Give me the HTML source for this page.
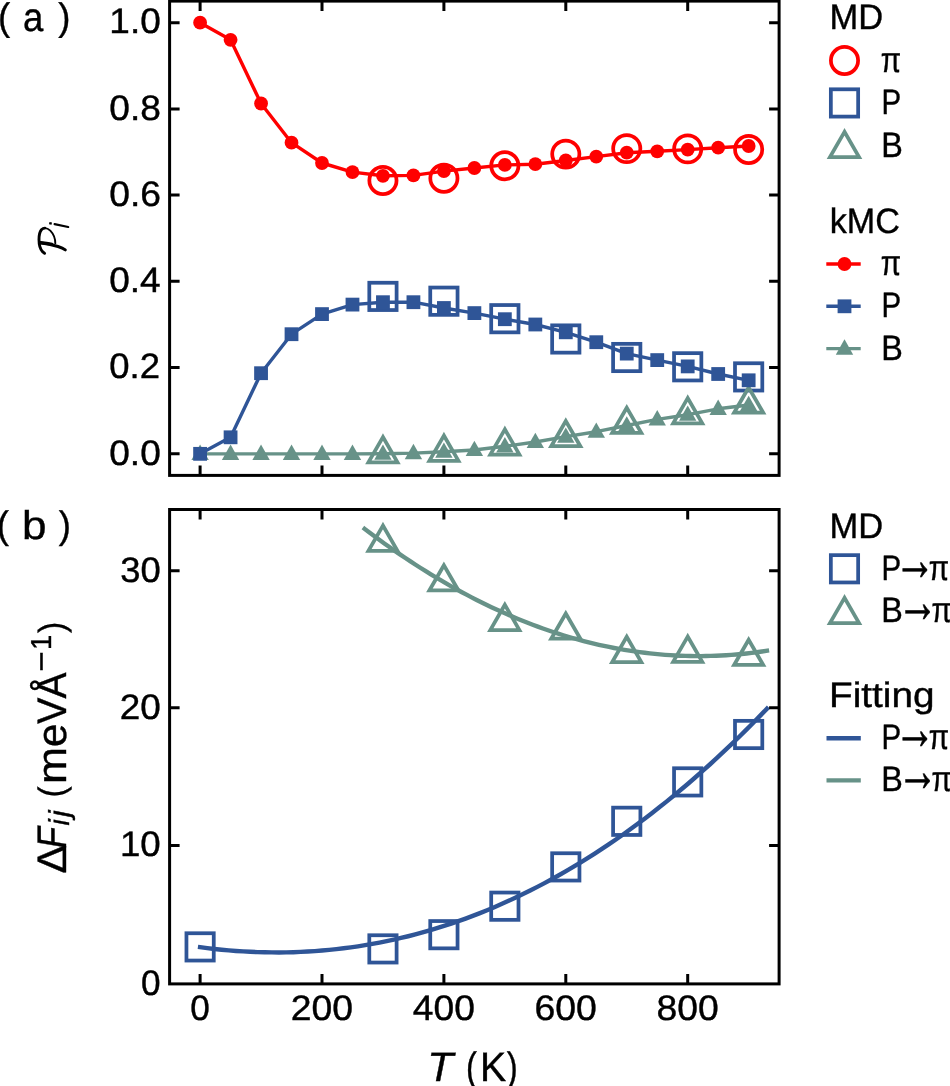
<!DOCTYPE html>
<html><head><meta charset="utf-8"><title>figure</title>
<style>
html,body{margin:0;padding:0;background:#fff;width:950px;height:1086px;overflow:hidden}
text{stroke:#000;stroke-width:0.4px}text.ar{stroke-width:0.3px}
svg{display:block;will-change:transform;font-family:"Liberation Sans",sans-serif;font-kerning:none;font-variant-ligatures:none;text-rendering:geometricPrecision}
</style></head><body>
<svg width="950" height="1086" viewBox="0 0 950 1086"><rect width="950" height="1086" fill="#fff"/><circle cx="382.95" cy="180.50" r="13.6" fill="none" stroke="#ff0000" stroke-width="3.75"/>
<circle cx="443.90" cy="178.30" r="13.6" fill="none" stroke="#ff0000" stroke-width="3.75"/>
<circle cx="504.85" cy="165.70" r="13.6" fill="none" stroke="#ff0000" stroke-width="3.75"/>
<circle cx="565.80" cy="154.10" r="13.6" fill="none" stroke="#ff0000" stroke-width="3.75"/>
<circle cx="626.75" cy="148.60" r="13.6" fill="none" stroke="#ff0000" stroke-width="3.75"/>
<circle cx="687.70" cy="148.90" r="13.6" fill="none" stroke="#ff0000" stroke-width="3.75"/>
<circle cx="748.65" cy="149.50" r="13.6" fill="none" stroke="#ff0000" stroke-width="3.75"/>
<rect x="369.30" y="282.75" width="27.3" height="27.3" fill="none" stroke="#2f5597" stroke-width="3.75"/>
<rect x="430.25" y="287.55" width="27.3" height="27.3" fill="none" stroke="#2f5597" stroke-width="3.75"/>
<rect x="491.20" y="305.05" width="27.3" height="27.3" fill="none" stroke="#2f5597" stroke-width="3.75"/>
<rect x="552.15" y="325.35" width="27.3" height="27.3" fill="none" stroke="#2f5597" stroke-width="3.75"/>
<rect x="613.10" y="343.85" width="27.3" height="27.3" fill="none" stroke="#2f5597" stroke-width="3.75"/>
<rect x="674.05" y="353.15" width="27.3" height="27.3" fill="none" stroke="#2f5597" stroke-width="3.75"/>
<rect x="735.00" y="363.25" width="27.3" height="27.3" fill="none" stroke="#2f5597" stroke-width="3.75"/>
<polygon points="382.95,437.10 368.40,462.30 397.50,462.30" fill="none" stroke="#679288" stroke-width="3.75" stroke-miterlimit="10"/>
<polygon points="443.90,435.60 429.35,460.80 458.45,460.80" fill="none" stroke="#679288" stroke-width="3.75" stroke-miterlimit="10"/>
<polygon points="504.85,429.35 490.30,454.55 519.40,454.55" fill="none" stroke="#679288" stroke-width="3.75" stroke-miterlimit="10"/>
<polygon points="565.80,421.00 551.25,446.20 580.35,446.20" fill="none" stroke="#679288" stroke-width="3.75" stroke-miterlimit="10"/>
<polygon points="626.75,407.70 612.20,432.90 641.30,432.90" fill="none" stroke="#679288" stroke-width="3.75" stroke-miterlimit="10"/>
<polygon points="687.70,398.10 673.15,423.30 702.25,423.30" fill="none" stroke="#679288" stroke-width="3.75" stroke-miterlimit="10"/>
<polygon points="748.65,387.50 734.10,412.70 763.20,412.70" fill="none" stroke="#679288" stroke-width="3.75" stroke-miterlimit="10"/>
<path d="M200.10 453.84 L230.57 453.84 L261.05 453.84 L291.52 453.84 L322.00 453.84 L352.48 453.84 L382.95 453.70 L413.43 453.10 L443.90 451.70 L474.38 450.00 L504.85 446.30 L535.33 442.00 L565.80 436.70 L596.27 431.70 L626.75 425.50 L657.23 419.40 L687.70 414.70 L718.18 408.80 L748.65 405.00" fill="none" stroke="#679288" stroke-width="3.4" stroke-linejoin="round"/>
<polygon points="200.10,444.54 191.40,459.94 208.80,459.94" fill="#679288"/>
<polygon points="230.57,444.54 221.88,459.94 239.27,459.94" fill="#679288"/>
<polygon points="261.05,444.54 252.35,459.94 269.75,459.94" fill="#679288"/>
<polygon points="291.52,444.54 282.82,459.94 300.22,459.94" fill="#679288"/>
<polygon points="322.00,444.54 313.30,459.94 330.70,459.94" fill="#679288"/>
<polygon points="352.48,444.54 343.78,459.94 361.18,459.94" fill="#679288"/>
<polygon points="382.95,444.40 374.25,459.80 391.65,459.80" fill="#679288"/>
<polygon points="413.43,443.80 404.73,459.20 422.12,459.20" fill="#679288"/>
<polygon points="443.90,442.40 435.20,457.80 452.60,457.80" fill="#679288"/>
<polygon points="474.38,440.70 465.68,456.10 483.07,456.10" fill="#679288"/>
<polygon points="504.85,437.00 496.15,452.40 513.55,452.40" fill="#679288"/>
<polygon points="535.33,432.70 526.62,448.10 544.03,448.10" fill="#679288"/>
<polygon points="565.80,427.40 557.10,442.80 574.50,442.80" fill="#679288"/>
<polygon points="596.27,422.40 587.57,437.80 604.98,437.80" fill="#679288"/>
<polygon points="626.75,416.20 618.05,431.60 635.45,431.60" fill="#679288"/>
<polygon points="657.23,410.10 648.52,425.50 665.93,425.50" fill="#679288"/>
<polygon points="687.70,405.40 679.00,420.80 696.40,420.80" fill="#679288"/>
<polygon points="718.18,399.50 709.48,414.90 726.88,414.90" fill="#679288"/>
<polygon points="748.65,395.70 739.95,411.10 757.35,411.10" fill="#679288"/>
<path d="M200.10 453.84 L230.57 437.30 L261.05 373.20 L291.52 334.20 L322.00 314.10 L352.48 304.60 L382.95 302.20 L413.43 302.20 L443.90 308.00 L474.38 313.10 L504.85 319.20 L535.33 324.50 L565.80 332.30 L596.27 342.20 L626.75 353.60 L657.23 360.10 L687.70 366.40 L718.18 374.00 L748.65 380.30" fill="none" stroke="#2f5597" stroke-width="3.4" stroke-linejoin="round"/>
<rect x="193.20" y="446.94" width="13.8" height="13.8" fill="#2f5597"/>
<rect x="223.67" y="430.40" width="13.8" height="13.8" fill="#2f5597"/>
<rect x="254.15" y="366.30" width="13.8" height="13.8" fill="#2f5597"/>
<rect x="284.62" y="327.30" width="13.8" height="13.8" fill="#2f5597"/>
<rect x="315.10" y="307.20" width="13.8" height="13.8" fill="#2f5597"/>
<rect x="345.58" y="297.70" width="13.8" height="13.8" fill="#2f5597"/>
<rect x="376.05" y="295.30" width="13.8" height="13.8" fill="#2f5597"/>
<rect x="406.53" y="295.30" width="13.8" height="13.8" fill="#2f5597"/>
<rect x="437.00" y="301.10" width="13.8" height="13.8" fill="#2f5597"/>
<rect x="467.48" y="306.20" width="13.8" height="13.8" fill="#2f5597"/>
<rect x="497.95" y="312.30" width="13.8" height="13.8" fill="#2f5597"/>
<rect x="528.43" y="317.60" width="13.8" height="13.8" fill="#2f5597"/>
<rect x="558.90" y="325.40" width="13.8" height="13.8" fill="#2f5597"/>
<rect x="589.38" y="335.30" width="13.8" height="13.8" fill="#2f5597"/>
<rect x="619.85" y="346.70" width="13.8" height="13.8" fill="#2f5597"/>
<rect x="650.33" y="353.20" width="13.8" height="13.8" fill="#2f5597"/>
<rect x="680.80" y="359.50" width="13.8" height="13.8" fill="#2f5597"/>
<rect x="711.28" y="367.10" width="13.8" height="13.8" fill="#2f5597"/>
<rect x="741.75" y="373.40" width="13.8" height="13.8" fill="#2f5597"/>
<path d="M200.10 22.70 L230.57 39.80 L261.05 103.50 L291.52 142.70 L322.00 163.00 L352.48 172.10 L382.95 175.80 L413.43 175.40 L443.90 171.10 L474.38 168.00 L504.85 164.90 L535.33 164.20 L565.80 160.50 L596.27 156.60 L626.75 152.70 L657.23 151.30 L687.70 149.60 L718.18 147.70 L748.65 146.00" fill="none" stroke="#ff0000" stroke-width="3.4" stroke-linejoin="round"/>
<circle cx="200.10" cy="22.70" r="6.9" fill="#ff0000"/>
<circle cx="230.57" cy="39.80" r="6.9" fill="#ff0000"/>
<circle cx="261.05" cy="103.50" r="6.9" fill="#ff0000"/>
<circle cx="291.52" cy="142.70" r="6.9" fill="#ff0000"/>
<circle cx="322.00" cy="163.00" r="6.9" fill="#ff0000"/>
<circle cx="352.48" cy="172.10" r="6.9" fill="#ff0000"/>
<circle cx="382.95" cy="175.80" r="6.9" fill="#ff0000"/>
<circle cx="413.43" cy="175.40" r="6.9" fill="#ff0000"/>
<circle cx="443.90" cy="171.10" r="6.9" fill="#ff0000"/>
<circle cx="474.38" cy="168.00" r="6.9" fill="#ff0000"/>
<circle cx="504.85" cy="164.90" r="6.9" fill="#ff0000"/>
<circle cx="535.33" cy="164.20" r="6.9" fill="#ff0000"/>
<circle cx="565.80" cy="160.50" r="6.9" fill="#ff0000"/>
<circle cx="596.27" cy="156.60" r="6.9" fill="#ff0000"/>
<circle cx="626.75" cy="152.70" r="6.9" fill="#ff0000"/>
<circle cx="657.23" cy="151.30" r="6.9" fill="#ff0000"/>
<circle cx="687.70" cy="149.60" r="6.9" fill="#ff0000"/>
<circle cx="718.18" cy="147.70" r="6.9" fill="#ff0000"/>
<circle cx="748.65" cy="146.00" r="6.9" fill="#ff0000"/>
<rect x="186.45" y="933.25" width="27.3" height="27.3" fill="none" stroke="#2f5597" stroke-width="3.75"/>
<rect x="369.30" y="935.25" width="27.3" height="27.3" fill="none" stroke="#2f5597" stroke-width="3.75"/>
<rect x="430.25" y="921.05" width="27.3" height="27.3" fill="none" stroke="#2f5597" stroke-width="3.75"/>
<rect x="491.20" y="892.55" width="27.3" height="27.3" fill="none" stroke="#2f5597" stroke-width="3.75"/>
<rect x="552.15" y="853.25" width="27.3" height="27.3" fill="none" stroke="#2f5597" stroke-width="3.75"/>
<rect x="613.10" y="807.65" width="27.3" height="27.3" fill="none" stroke="#2f5597" stroke-width="3.75"/>
<rect x="674.05" y="768.25" width="27.3" height="27.3" fill="none" stroke="#2f5597" stroke-width="3.75"/>
<rect x="735.00" y="720.85" width="27.3" height="27.3" fill="none" stroke="#2f5597" stroke-width="3.75"/>
<polygon points="382.95,525.60 368.40,550.80 397.50,550.80" fill="none" stroke="#679288" stroke-width="3.75" stroke-miterlimit="10"/>
<polygon points="443.90,565.25 429.35,590.45 458.45,590.45" fill="none" stroke="#679288" stroke-width="3.75" stroke-miterlimit="10"/>
<polygon points="504.85,604.80 490.30,630.00 519.40,630.00" fill="none" stroke="#679288" stroke-width="3.75" stroke-miterlimit="10"/>
<polygon points="565.80,613.50 551.25,638.70 580.35,638.70" fill="none" stroke="#679288" stroke-width="3.75" stroke-miterlimit="10"/>
<polygon points="626.75,636.80 612.20,662.00 641.30,662.00" fill="none" stroke="#679288" stroke-width="3.75" stroke-miterlimit="10"/>
<polygon points="687.70,636.60 673.15,661.80 702.25,661.80" fill="none" stroke="#679288" stroke-width="3.75" stroke-miterlimit="10"/>
<polygon points="748.65,639.75 734.10,664.95 763.20,664.95" fill="none" stroke="#679288" stroke-width="3.75" stroke-miterlimit="10"/>
<path d="M200.10 947.19 L207.28 948.12 L214.45 948.96 L221.63 949.71 L228.80 950.37 L235.98 950.94 L243.15 951.42 L250.33 951.81 L257.50 952.10 L264.68 952.30 L271.85 952.41 L279.03 952.43 L286.20 952.35 L293.38 952.18 L300.55 951.92 L307.73 951.56 L314.90 951.10 L322.08 950.55 L329.25 949.90 L336.43 949.15 L343.60 948.31 L350.78 947.36 L357.95 946.32 L365.13 945.18 L372.30 943.94 L379.48 942.60 L386.65 941.16 L393.83 939.62 L401.00 937.98 L408.18 936.24 L415.35 934.39 L422.53 932.44 L429.70 930.39 L436.88 928.23 L444.05 925.97 L451.23 923.61 L458.40 921.14 L465.58 918.56 L472.75 915.88 L479.93 913.09 L487.11 910.20 L494.28 907.19 L501.46 904.08 L508.63 900.86 L515.81 897.53 L522.98 894.09 L530.16 890.55 L537.33 886.89 L544.51 883.12 L551.68 879.24 L558.86 875.25 L566.03 871.14 L573.21 866.92 L580.38 862.59 L587.56 858.15 L594.73 853.59 L601.91 848.92 L609.08 844.13 L616.26 839.22 L623.43 834.20 L630.61 829.07 L637.78 823.81 L644.96 818.44 L652.13 812.95 L659.31 807.35 L666.48 801.62 L673.66 795.77 L680.83 789.81 L688.01 783.72 L695.18 777.52 L702.36 771.19 L709.53 764.74 L716.71 758.17 L723.88 751.47 L731.06 744.65 L738.23 737.71 L745.41 730.65 L752.58 723.46 L759.76 716.14 L766.94 708.70" fill="none" stroke="#2f5597" stroke-width="4.4" stroke-linecap="square"/>
<path d="M364.66 528.90 L369.76 532.75 L374.85 536.54 L379.94 540.28 L385.03 543.95 L390.13 547.56 L395.22 551.12 L400.31 554.62 L405.40 558.05 L410.49 561.43 L415.59 564.75 L420.68 568.01 L425.77 571.21 L430.86 574.35 L435.95 577.43 L441.05 580.45 L446.14 583.42 L451.23 586.32 L456.32 589.17 L461.41 591.95 L466.51 594.68 L471.60 597.34 L476.69 599.95 L481.78 602.50 L486.87 604.99 L491.97 607.42 L497.06 609.79 L502.15 612.10 L507.24 614.36 L512.33 616.55 L517.43 618.68 L522.52 620.76 L527.61 622.78 L532.70 624.73 L537.79 626.63 L542.89 628.47 L547.98 630.25 L553.07 631.97 L558.16 633.63 L563.25 635.23 L568.35 636.77 L573.44 638.25 L578.53 639.68 L583.62 641.04 L588.71 642.35 L593.81 643.59 L598.90 644.78 L603.99 645.91 L609.08 646.97 L614.17 647.98 L619.27 648.93 L624.36 649.82 L629.45 650.66 L634.54 651.43 L639.63 652.14 L644.73 652.80 L649.82 653.39 L654.91 653.93 L660.00 654.40 L665.09 654.82 L670.19 655.18 L675.28 655.48 L680.37 655.71 L685.46 655.90 L690.55 656.02 L695.65 656.08 L700.74 656.08 L705.83 656.02 L710.92 655.91 L716.01 655.73 L721.11 655.50 L726.20 655.20 L731.29 654.85 L736.38 654.44 L741.47 653.97 L746.57 653.44 L751.66 652.85 L756.75 652.20 L761.84 651.49 L766.94 650.72" fill="none" stroke="#679288" stroke-width="4.4" stroke-linecap="square"/>
<path d="M200.10 475.40 V465.40 M200.10 1.10 V11.10 M322.00 475.40 V465.40 M322.00 1.10 V11.10 M443.90 475.40 V465.40 M443.90 1.10 V11.10 M565.80 475.40 V465.40 M565.80 1.10 V11.10 M687.70 475.40 V465.40 M687.70 1.10 V11.10 M169.60 453.84 H179.60 M779.10 453.84 H769.10 M169.60 367.60 H179.60 M779.10 367.60 H769.10 M169.60 281.36 H179.60 M779.10 281.36 H769.10 M169.60 195.12 H179.60 M779.10 195.12 H769.10 M169.60 108.88 H179.60 M779.10 108.88 H769.10 M169.60 22.64 H179.60 M779.10 22.64 H769.10" stroke="#000" stroke-width="3.0" fill="none"/>
<rect x="169.60" y="1.10" width="609.50" height="474.30" fill="none" stroke="#000" stroke-width="3.0"/>
<path d="M200.10 983.90 V973.90 M200.10 509.50 V519.50 M322.00 983.90 V973.90 M322.00 509.50 V519.50 M443.90 983.90 V973.90 M443.90 509.50 V519.50 M565.80 983.90 V973.90 M565.80 509.50 V519.50 M687.70 983.90 V973.90 M687.70 509.50 V519.50 M169.60 845.40 H179.60 M779.10 845.40 H769.10 M169.60 707.80 H179.60 M779.10 707.80 H769.10 M169.60 570.70 H179.60 M779.10 570.70 H769.10" stroke="#000" stroke-width="3.0" fill="none"/>
<rect x="169.60" y="509.50" width="609.50" height="474.40" fill="none" stroke="#000" stroke-width="3.0"/>
<text transform="matrix(1.0488 0 0 1.0000 109.24 464.64)" font-size="35.32">0.0</text>
<text transform="matrix(1.0334 0 0 1.0000 109.26 378.40)" font-size="35.32">0.2</text>
<text transform="matrix(1.0483 0 0 1.0000 109.24 292.16)" font-size="35.32">0.4</text>
<text transform="matrix(1.0551 0 0 1.0000 109.23 205.92)" font-size="35.32">0.6</text>
<text transform="matrix(1.0509 0 0 1.0000 109.24 119.68)" font-size="35.32">0.8</text>
<text transform="matrix(1.0467 0 0 1.0000 109.34 33.44)" font-size="35.32">1.0</text>
<text transform="matrix(0.9948 0 0 1.0000 141.12 995.10)" font-size="35.32">0</text>
<text transform="matrix(1.0376 0 0 1.0000 119.96 856.20)" font-size="35.32">10</text>
<text transform="matrix(1.0451 0 0 1.0000 119.67 718.60)" font-size="35.32">20</text>
<text transform="matrix(1.0301 0 0 1.0000 120.24 581.50)" font-size="35.32">30</text>
<text transform="matrix(0.9948 0 0 1.0000 190.32 1020.10)" font-size="35.32">0</text>
<text transform="matrix(1.0573 0 0 1.0000 290.75 1020.10)" font-size="35.32">200</text>
<text transform="matrix(1.0536 0 0 1.0000 412.86 1020.10)" font-size="35.32">400</text>
<text transform="matrix(1.0596 0 0 1.0000 534.42 1020.10)" font-size="35.32">600</text>
<text transform="matrix(1.0559 0 0 1.0000 656.53 1020.10)" font-size="35.32">800</text>
<text transform="matrix(0.9770 0 0 1.0000 829.44 29.40)" font-size="35.32">MD</text>
<circle cx="844.50" cy="60.55" r="13.6" fill="none" stroke="#ff0000" stroke-width="3.75"/>
<text transform="matrix(0.8360 0 0 1.0000 880.77 71.75)" font-size="35.32">π</text>
<rect x="830.85" y="89.30" width="27.3" height="27.3" fill="none" stroke="#2f5597" stroke-width="3.75"/>
<text transform="matrix(0.8346 0 0 1.0000 881.55 114.25)" font-size="35.32">P</text>
<polygon points="844.50,131.85 829.95,157.05 859.05,157.05" fill="none" stroke="#679288" stroke-width="3.75" stroke-miterlimit="10"/>
<text transform="matrix(0.9169 0 0 1.0000 881.31 156.55)" font-size="35.32">B</text>
<text transform="matrix(0.9657 0 0 1.0000 829.73 232.90)" font-size="35.32">kMC</text>
<path d="M826.3 264.00 H860.7" stroke="#ff0000" stroke-width="3.4"/>
<circle cx="844.50" cy="264.00" r="6.9" fill="#ff0000"/>
<text transform="matrix(0.8360 0 0 1.0000 880.77 275.00)" font-size="35.32">π</text>
<path d="M826.3 306.30 H860.7" stroke="#2f5597" stroke-width="3.4"/>
<rect x="837.60" y="299.40" width="13.8" height="13.8" fill="#2f5597"/>
<text transform="matrix(0.8346 0 0 1.0000 881.55 317.30)" font-size="35.32">P</text>
<path d="M826.3 348.60 H860.7" stroke="#679288" stroke-width="3.4"/>
<polygon points="844.50,339.30 835.80,354.70 853.20,354.70" fill="#679288"/>
<text transform="matrix(0.9169 0 0 1.0000 881.31 359.60)" font-size="35.32">B</text>
<text transform="matrix(0.9770 0 0 1.0000 829.44 537.80)" font-size="35.32">MD</text>
<rect x="830.85" y="555.15" width="27.3" height="27.3" fill="none" stroke="#2f5597" stroke-width="3.75"/>
<text transform="matrix(0.8346 0 0 1.0000 881.55 580.00)" font-size="35.32">P</text><text class="ar" transform="matrix(1.1672 0 0 1.7223 894.29 579.65)" font-size="35.32">→</text><text transform="matrix(0.8360 0 0 1.0000 928.80 580.00)" font-size="35.32">π</text>
<polygon points="844.50,597.85 829.95,623.05 859.05,623.05" fill="none" stroke="#679288" stroke-width="3.75" stroke-miterlimit="10"/>
<text transform="matrix(0.9169 0 0 1.0000 881.31 622.20)" font-size="35.32">B</text><text class="ar" transform="matrix(1.1672 0 0 1.7223 897.06 621.85)" font-size="35.32">→</text><text transform="matrix(0.8360 0 0 1.0000 931.56 622.20)" font-size="35.32">π</text>
<text transform="matrix(1.0968 0 0 1.0000 829.09 707.20)" font-size="35.32">Fitting</text>
<path d="M826.5 738.3 H860.8" stroke="#2f5597" stroke-width="4.4"/>
<text transform="matrix(0.8346 0 0 1.0000 881.55 749.30)" font-size="35.32">P</text><text class="ar" transform="matrix(1.1672 0 0 1.7223 894.29 748.95)" font-size="35.32">→</text><text transform="matrix(0.8360 0 0 1.0000 928.80 749.30)" font-size="35.32">π</text>
<path d="M826.5 780.4 H860.8" stroke="#679288" stroke-width="4.4"/>
<text transform="matrix(0.9169 0 0 1.0000 881.31 791.30)" font-size="35.32">B</text><text class="ar" transform="matrix(1.1672 0 0 1.7223 897.06 790.95)" font-size="35.32">→</text><text transform="matrix(0.8360 0 0 1.0000 931.56 791.30)" font-size="35.32">π</text>
<text transform="matrix(0.8876 0 0 0.9297 -2.07 29.77)" font-size="41.22">(</text>
<text transform="matrix(0.8879 0 0 0.9787 22.95 31.21)" font-size="41.22">a</text>
<text transform="matrix(0.8876 0 0 0.9297 58.19 29.77)" font-size="41.22">)</text>
<text transform="matrix(0.8876 0 0 0.9323 -3.17 537.94)" font-size="41.22">(</text>
<text transform="matrix(1.0682 0 0 0.9746 21.96 539.21)" font-size="41.22">b</text>
<text transform="matrix(0.8876 0 0 0.9323 58.69 537.94)" font-size="41.22">)</text>
<text transform="matrix(1.0295 0 0 1.0000 427.19 1081.00)" font-size="41.22" font-style="italic">T</text>
<text transform="matrix(0.7977 0 0 1.0000 465.96 1081.00)" font-size="41.22">(</text>
<text transform="matrix(0.9518 0 0 1.0000 479.88 1081.00)" font-size="41.22">K</text>
<text transform="matrix(0.7977 0 0 1.0000 506.71 1081.00)" font-size="41.22">)</text>
<g transform="translate(66.4 872.2) rotate(-90)"><text transform="matrix(1.0370 0 0 1.0000 -1.27 0.00)" font-size="41.22">Δ</text><text transform="matrix(0.8430 0 0 1.0000 23.93 0.00)" font-size="41.22" font-style="italic">F</text><text transform="matrix(0.9821 0 0 1.0000 46.74 2.80)" font-size="28.85" font-style="italic">i</text><text transform="matrix(1.0302 0 0 1.0000 55.32 2.80)" font-size="28.85" font-style="italic">j</text><text transform="matrix(0.8144 0 0 0.8906 74.72 -2.60)" font-size="41.22">(</text><text transform="matrix(1.0753 0 0 1.0000 88.26 0.00)" font-size="41.22">m</text><text transform="matrix(1.0194 0 0 1.0000 125.22 0.00)" font-size="41.22">e</text><text transform="matrix(0.9577 0 0 1.0000 148.23 0.00)" font-size="41.22">V</text><text transform="matrix(0.9507 0 0 1.0000 173.72 0.00)" font-size="41.22">Å</text><text transform="matrix(1.2160 0 0 1.0989 200.47 -14.29)" font-size="28.85">−</text><text transform="matrix(0.9502 0 0 1.0000 222.11 -15.80)" font-size="28.85">1</text><text transform="matrix(0.8235 0 0 0.8828 239.20 -2.63)" font-size="41.22">)</text></g>
<g fill="none" stroke="#000" stroke-linecap="round"><path d="M39.8 242.7 C46 243.4 52 244.6 58 246.5 C61 247.5 63.5 248.6 65.3 249.9" stroke-width="3.0"/><path d="M40.2 242.6 C45 243.1 49 243.7 52 244.3" stroke-width="3.3"/><path d="M55.3 243.4 C55.3 238.5 53.6 234 50.3 230.6 C48.5 228.9 46.6 228.1 44.9 228.1" stroke-width="1.9"/><path d="M44.9 228.1 C43.6 228.1 42.4 228.7 41.4 229.7 C39.8 231.6 39 235 39 239.5 C39 245 40.2 249 42.4 251.4 C43.2 252.3 44 252.8 44.6 253.3" stroke-width="2.9"/><path d="M54.6 224.2 L68.2 227" stroke-width="2.2"/></g>
<rect x="49.2" y="222.2" width="2.6" height="2.4" fill="#000" transform="rotate(12 50.4 223.4)"/></svg>
</body></html>
